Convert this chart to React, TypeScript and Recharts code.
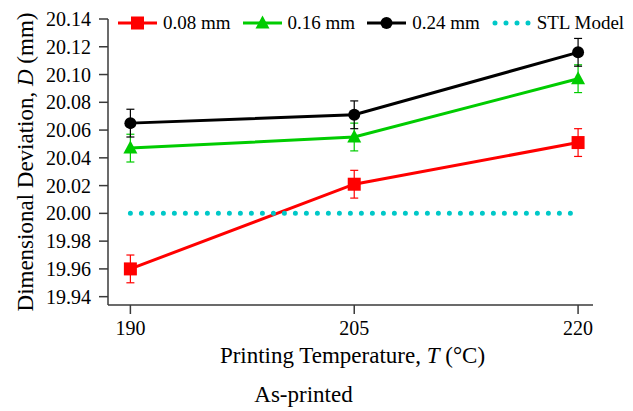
import React from 'react';
import { LineChart, Line, XAxis, YAxis, ErrorBar, Legend } from 'recharts';

const temperatures = [190, 205, 220];
const dev008 = [19.96, 20.021, 20.051];
const dev016 = [20.047, 20.055, 20.097];
const dev024 = [20.065, 20.071, 20.116];
const stlModel = [20.0, 20.0, 20.0];
const err008 = [0.01, 0.01, 0.01];
const err016 = [0.01, 0.01, 0.01];
const err024 = [0.01, 0.01, 0.01];
const yTicks = [19.94, 19.96, 19.98, 20.0, 20.02, 20.04, 20.06, 20.08, 20.1, 20.12, 20.14];
const xTicks = [190, 205, 220];

const data = temperatures.map((t, i) => ({
  temp: t,
  d008: dev008[i],
  d016: dev016[i],
  d024: dev024[i],
  stl: stlModel[i],
  e008: err008[i],
  e016: err016[i],
  e024: err024[i],
}));

const FONT = '"Liberation Serif", "Times New Roman", serif';
const AXIS = '#3a3a3a';

const SquareDot = (props: any) => {
  const { cx, cy } = props;
  if (cx == null || cy == null) return null;
  return <rect x={cx - 6.5} y={cy - 6.5} width={13} height={13} fill="#ff0000" />;
};
const TriDot = (props: any) => {
  const { cx, cy } = props;
  if (cx == null || cy == null) return null;
  return <polygon points={`${cx},${cy - 7.5} ${cx + 7},${cy + 5.5} ${cx - 7},${cy + 5.5}`} fill="#00cc00" />;
};
const CircleDot = (props: any) => {
  const { cx, cy } = props;
  if (cx == null || cy == null) return null;
  return <circle cx={cx} cy={cy} r={6} fill="#000000" />;
};

const XTick = (props: any) => {
  const { x, y, payload } = props;
  return (
    <text x={x} y={y} dy="0.71em" textAnchor="middle" fontFamily={FONT} fontSize={20} fill="#000">
      {payload.value}
    </text>
  );
};
const YTick = (props: any) => {
  const { x, y, payload } = props;
  return (
    <text x={x} y={y} dy="0.355em" textAnchor="end" fontFamily={FONT} fontSize={20} fill="#000">
      {Number(payload.value).toFixed(2)}
    </text>
  );
};

const legendItems = [
  { label: '0.08 mm', color: '#ff0000', marker: 'square' },
  { label: '0.16 mm', color: '#00cc00', marker: 'triangle' },
  { label: '0.24 mm', color: '#000000', marker: 'circle' },
  { label: 'STL Model', color: '#00c8c8', marker: 'dots' },
];

const LegendContent = () => (
  <div style={{ display: 'flex', alignItems: 'center', fontFamily: FONT, fontSize: 19, height: 22, whiteSpace: 'nowrap' }}>
    {legendItems.map((it) => (
      <div key={it.label} style={{ display: 'flex', alignItems: 'center', marginRight: 12 }}>
        <svg width={39} height={16} style={{ marginRight: 6 }}>
          {it.marker === 'dots' ? (
            <line x1={3} y1={8} x2={37} y2={8} stroke={it.color} strokeWidth={5} strokeLinecap="round" strokeDasharray="0 11" />
          ) : (
            <line x1={0} y1={8} x2={39} y2={8} stroke={it.color} strokeWidth={3} />
          )}
          {it.marker === 'square' && <rect x={13} y={1.5} width={13} height={13} fill={it.color} />}
          {it.marker === 'triangle' && <polygon points="19.5,0.5 26.5,13.5 12.5,13.5" fill={it.color} />}
          {it.marker === 'circle' && <circle cx={19.5} cy={8} r={6} fill={it.color} />}
        </svg>
        <span>{it.label}</span>
      </div>
    ))}
  </div>
);

const XLabel = (props: any) => {
  const vb = props.viewBox || {};
  const cx = vb.x + vb.width / 2 + 2;
  return (
    <g fontFamily={FONT} fontSize={23} fill="#000">
      <text x={cx} y={vb.y + 58} textAnchor="middle">
        Printing Temperature, <tspan fontStyle="italic">T</tspan> (°C)
      </text>
      <text x={cx - 49} y={vb.y + 97} textAnchor="middle">As-printed</text>
    </g>
  );
};

const YLabel = (props: any) => {
  const vb = props.viewBox || {};
  const cy = vb.y + vb.height / 2;
  const x = 33;
  return (
    <text x={x} y={cy} textAnchor="middle" transform={`rotate(-90 ${x} ${cy})`} fontFamily={FONT} fontSize={23} fill="#000">
      Dimensional Deviation, <tspan fontStyle="italic">D</tspan> (mm)
    </text>
  );
};

export default function App() {
  return (
    <div style={{ position: 'absolute', left: 0, top: 0, width: 633, height: 411, background: '#fff' }}>
      <LineChart width={633} height={411} data={data} margin={{ top: 19, right: 40, left: 0, bottom: 0 }}>
        <XAxis
          dataKey="temp"
          type="number"
          domain={[188.5, 221]}
          ticks={xTicks}
          interval={0}
          allowDataOverflow
          height={106}
          tickSize={9}
          tickMargin={7}
          stroke={AXIS}
          strokeWidth={1.5}
          tick={<XTick />}
          label={<XLabel />}
        />
        <YAxis
          type="number"
          domain={[19.934, 20.14]}
          ticks={yTicks}
          interval={0}
          allowDataOverflow
          width={108}
          tickSize={9}
          tickMargin={8}
          stroke={AXIS}
          strokeWidth={1.5}
          tick={<YTick />}
          label={<YLabel />}
        />
        <Legend
          layout="horizontal"
          verticalAlign="middle"
          align="center"
          content={<LegendContent />}
          wrapperStyle={{ top: 12, left: 118, width: 520 }}
        />
        <Line dataKey="d008" stroke="#ff0000" strokeWidth={3} dot={<SquareDot />} isAnimationActive={false}>
          <ErrorBar dataKey="e008" width={4} stroke="#ff0000" strokeWidth={1.2} />
        </Line>
        <Line dataKey="d016" stroke="#00cc00" strokeWidth={3} dot={<TriDot />} isAnimationActive={false}>
          <ErrorBar dataKey="e016" width={4} stroke="#00cc00" strokeWidth={1.2} />
        </Line>
        <Line dataKey="d024" stroke="#000000" strokeWidth={3} dot={<CircleDot />} isAnimationActive={false}>
          <ErrorBar dataKey="e024" width={4} stroke="#000000" strokeWidth={1.2} />
        </Line>
        <Line dataKey="stl" stroke="#00c8c8" strokeWidth={5} strokeLinecap="round" strokeDasharray="0 11" dot={false} isAnimationActive={false} />
      </LineChart>
    </div>
  );
}
